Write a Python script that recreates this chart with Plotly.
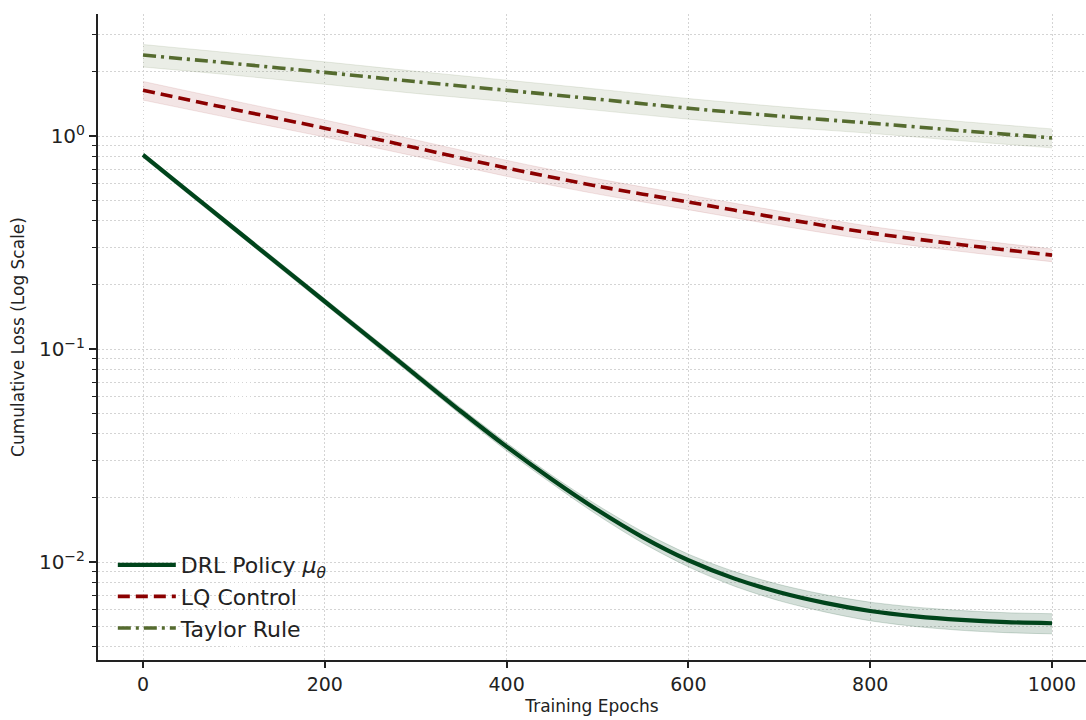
import plotly.graph_objects as go

# ---- data ----
epochs_drl = [0, 50, 100, 150, 200, 250, 300, 350, 400, 450, 500,
              550, 600, 650, 700, 750, 800, 850, 900, 950, 1000]
drl_mean = [0.815, 0.548, 0.369, 0.2484, 0.1672, 0.1125, 0.0757, 0.0509, 0.0348, 0.0244, 0.01754,
            0.01306, 0.01019, 0.00838, 0.00721, 0.00643, 0.00589, 0.00556, 0.00535, 0.00522, 0.00516]
drl_std = [0.022, 0.015, 0.0105, 0.0073, 0.0051, 0.0036, 0.0026, 0.0019, 0.0015, 0.0011, 0.00093,
           0.0008, 0.0007, 0.00066, 0.00063, 0.0006, 0.00059, 0.00058, 0.00057, 0.00056, 0.00056]

epochs = [0, 100, 200, 300, 400, 500, 600, 700, 800, 900, 1000]
lq_mean = [1.64, 1.334, 1.089, 0.881, 0.708, 0.582, 0.490, 0.412, 0.351, 0.309, 0.276]
lq_std = [0.165, 0.128, 0.100, 0.078, 0.061, 0.048, 0.039, 0.032, 0.026, 0.022, 0.019]
taylor_mean = [2.40, 2.19, 1.99, 1.80, 1.64, 1.49, 1.35, 1.24, 1.15, 1.06, 0.98]
taylor_std = [0.29, 0.26, 0.24, 0.215, 0.19, 0.17, 0.15, 0.135, 0.12, 0.11, 0.10]

x_ticks = [0, 200, 400, 600, 800, 1000]
y_ticks = [0.01, 0.1, 1]
y_ticktext = ["10<sup>\u22122</sup>", "10<sup>\u22121</sup>", "10<sup>0</sup>"]
y_minor = [0.004, 0.005, 0.006, 0.007, 0.008, 0.009,
           0.02, 0.03, 0.04, 0.05, 0.06, 0.07, 0.08, 0.09,
           0.2, 0.3, 0.4, 0.5, 0.6, 0.7, 0.8, 0.9, 2, 3]

series = [
    dict(name="DRL Policy <i>\u03bc<sub>\u03b8</sub></i>", x=epochs_drl, m=drl_mean, s=drl_std,
         color="#00441b", fill="rgba(0,68,27,0.17)", dash="solid", width=4.2),
    dict(name="LQ Control", x=epochs, m=lq_mean, s=lq_std,
         color="#8b0000", fill="rgba(139,0,0,0.10)", dash="12px,6px", width=3.6),
    dict(name="Taylor Rule", x=epochs, m=taylor_mean, s=taylor_std,
         color="#556b2f", fill="rgba(85,107,47,0.12)", dash="13px,5px,3px,5px", width=3.6),
]

FONT = "DejaVu Sans"
fig = go.Figure()

for sr in series:
    up = [m + s for m, s in zip(sr["m"], sr["s"])]
    lo = [m - s for m, s in zip(sr["m"], sr["s"])]
    fig.add_trace(go.Scatter(
        x=sr["x"], y=lo, mode="lines",
        line=dict(color=sr["fill"], width=1, shape="spline", smoothing=0.8),
        showlegend=False, hoverinfo="skip"))
    fig.add_trace(go.Scatter(
        x=sr["x"], y=up, mode="lines", fill="tonexty", fillcolor=sr["fill"],
        line=dict(color=sr["fill"], width=1, shape="spline", smoothing=0.8),
        showlegend=False, hoverinfo="skip"))

for sr in series:
    fig.add_trace(go.Scatter(
        x=sr["x"], y=sr["m"], name=sr["name"], mode="lines",
        line=dict(color=sr["color"], width=sr["width"], dash=sr["dash"],
                  shape="spline", smoothing=0.8)))

grid_col = "#d4d4d4"
grid_dash = "1.5px,2.5px"
fig.update_layout(
    width=1086, height=720,
    margin=dict(l=98, r=0, t=14, b=60),
    paper_bgcolor="white", plot_bgcolor="white",
    font=dict(family=FONT, color="#222222"),
    showlegend=True,
    legend=dict(x=0.015, y=0.017, xanchor="left", yanchor="bottom", traceorder="normal",
                bgcolor="rgba(255,255,255,0)", font=dict(size=22, family=FONT, color="#222222"),
                itemwidth=58, tracegroupgap=0),
    xaxis=dict(
        range=[-49.5, 1037.4], tickmode="array", tickvals=x_ticks,
        tickfont=dict(size=19, family=FONT, color="#222222"),
        showline=True, linecolor="#222222", linewidth=2, mirror=False,
        ticks="outside", ticklen=6, tickwidth=1.5, tickcolor="#222222",
        showgrid=True, gridcolor=grid_col, griddash=grid_dash, gridwidth=1,
        zeroline=False,
        title=dict(text="Training Epochs", font=dict(size=17, family=FONT, color="#222222"), standoff=6),
    ),
    yaxis=dict(
        type="log", range=[-2.46, 0.573],
        tickmode="array", tickvals=y_ticks, ticktext=y_ticktext,
        tickfont=dict(size=20, family=FONT, color="#222222"),
        showline=True, linecolor="#222222", linewidth=2, mirror=False,
        ticks="outside", ticklen=7, tickwidth=1.5, tickcolor="#222222",
        showgrid=True, gridcolor=grid_col, griddash=grid_dash, gridwidth=1,
        zeroline=False,
        minor=dict(tickmode="array", tickvals=y_minor, ticks="outside", ticklen=4,
                   tickwidth=1.2, tickcolor="#222222",
                   showgrid=True, gridcolor=grid_col, griddash=grid_dash, gridwidth=1),
        title=dict(text="Cumulative Loss (Log Scale)", font=dict(size=17, family=FONT, color="#222222"), standoff=10),
    ),
)

fig.write_html("out.html")
